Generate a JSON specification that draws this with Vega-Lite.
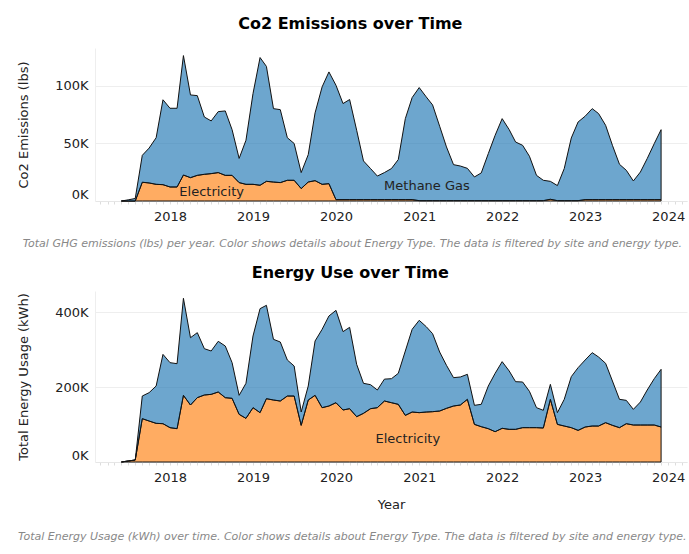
{
  "$schema": "https://vega.github.io/schema/vega-lite/v6.json",
  "padding": {"left": 16, "top": 16, "right": 2, "bottom": 5},
  "spacing": 16,
  "config": {
    "font": "DejaVu Sans",
    "view": {"stroke": null},
    "axis": {"labelFontSize": 13, "labelColor": "#222", "titleFontSize": 13, "titleFontWeight": "normal", "titleColor": "#222"},
    "title": {"fontSize": 16, "fontWeight": "bold", "color": "#000"}
  },
  "datasets": {
    "co2": [
      {"date": "2017-06-01", "Electricity": 0, "Methane Gas": 0},
      {"date": "2017-07-01", "Electricity": 0, "Methane Gas": 1000},
      {"date": "2017-08-01", "Electricity": 0, "Methane Gas": 2200},
      {"date": "2017-09-01", "Electricity": 16300, "Methane Gas": 23400},
      {"date": "2017-10-01", "Electricity": 15700, "Methane Gas": 30300},
      {"date": "2017-11-01", "Electricity": 14500, "Methane Gas": 40500},
      {"date": "2017-12-01", "Electricity": 14200, "Methane Gas": 73800},
      {"date": "2018-01-01", "Electricity": 12200, "Methane Gas": 68400},
      {"date": "2018-02-01", "Electricity": 12200, "Methane Gas": 68400},
      {"date": "2018-03-01", "Electricity": 22600, "Methane Gas": 103800},
      {"date": "2018-04-01", "Electricity": 20300, "Methane Gas": 71900},
      {"date": "2018-05-01", "Electricity": 22300, "Methane Gas": 69300},
      {"date": "2018-06-01", "Electricity": 23200, "Methane Gas": 49800},
      {"date": "2018-07-01", "Electricity": 23800, "Methane Gas": 45800},
      {"date": "2018-08-01", "Electricity": 24700, "Methane Gas": 53000},
      {"date": "2018-09-01", "Electricity": 22300, "Methane Gas": 56000},
      {"date": "2018-10-01", "Electricity": 22300, "Methane Gas": 39700},
      {"date": "2018-11-01", "Electricity": 16000, "Methane Gas": 21000},
      {"date": "2018-12-01", "Electricity": 14500, "Methane Gas": 38300},
      {"date": "2019-01-01", "Electricity": 14500, "Methane Gas": 78900},
      {"date": "2019-02-01", "Electricity": 13700, "Methane Gas": 111000},
      {"date": "2019-03-01", "Electricity": 17100, "Methane Gas": 99900},
      {"date": "2019-04-01", "Electricity": 16500, "Methane Gas": 63800},
      {"date": "2019-05-01", "Electricity": 16000, "Methane Gas": 63400},
      {"date": "2019-06-01", "Electricity": 18000, "Methane Gas": 37000},
      {"date": "2019-07-01", "Electricity": 18000, "Methane Gas": 32000},
      {"date": "2019-08-01", "Electricity": 10800, "Methane Gas": 13900},
      {"date": "2019-09-01", "Electricity": 16500, "Methane Gas": 23800},
      {"date": "2019-10-01", "Electricity": 17700, "Methane Gas": 58900},
      {"date": "2019-11-01", "Electricity": 14500, "Methane Gas": 84700},
      {"date": "2019-12-01", "Electricity": 15100, "Methane Gas": 97100},
      {"date": "2020-01-01", "Electricity": 1200, "Methane Gas": 99400},
      {"date": "2020-02-01", "Electricity": 1200, "Methane Gas": 83500},
      {"date": "2020-03-01", "Electricity": 1200, "Methane Gas": 87000},
      {"date": "2020-04-01", "Electricity": 1200, "Methane Gas": 60300},
      {"date": "2020-05-01", "Electricity": 1200, "Methane Gas": 33600},
      {"date": "2020-06-01", "Electricity": 1200, "Methane Gas": 27000},
      {"date": "2020-07-01", "Electricity": 1200, "Methane Gas": 20500},
      {"date": "2020-08-01", "Electricity": 1200, "Methane Gas": 23500},
      {"date": "2020-09-01", "Electricity": 1200, "Methane Gas": 27000},
      {"date": "2020-10-01", "Electricity": 1200, "Methane Gas": 34800},
      {"date": "2020-11-01", "Electricity": 1200, "Methane Gas": 70400},
      {"date": "2020-12-01", "Electricity": 1200, "Methane Gas": 88700},
      {"date": "2021-01-01", "Electricity": 300, "Methane Gas": 98300},
      {"date": "2021-02-01", "Electricity": 300, "Methane Gas": 90200},
      {"date": "2021-03-01", "Electricity": 300, "Methane Gas": 83200},
      {"date": "2021-04-01", "Electricity": 300, "Methane Gas": 64700},
      {"date": "2021-05-01", "Electricity": 300, "Methane Gas": 46700},
      {"date": "2021-06-01", "Electricity": 300, "Methane Gas": 31300},
      {"date": "2021-07-01", "Electricity": 300, "Methane Gas": 30100},
      {"date": "2021-08-01", "Electricity": 300, "Methane Gas": 28100},
      {"date": "2021-09-01", "Electricity": 300, "Methane Gas": 20600},
      {"date": "2021-10-01", "Electricity": 300, "Methane Gas": 24100},
      {"date": "2021-11-01", "Electricity": 300, "Methane Gas": 40900},
      {"date": "2021-12-01", "Electricity": 300, "Methane Gas": 56800},
      {"date": "2022-01-01", "Electricity": 300, "Methane Gas": 71300},
      {"date": "2022-02-01", "Electricity": 300, "Methane Gas": 61700},
      {"date": "2022-03-01", "Electricity": 300, "Methane Gas": 51000},
      {"date": "2022-04-01", "Electricity": 300, "Methane Gas": 48100},
      {"date": "2022-05-01", "Electricity": 300, "Methane Gas": 38600},
      {"date": "2022-06-01", "Electricity": 300, "Methane Gas": 22000},
      {"date": "2022-07-01", "Electricity": 300, "Methane Gas": 17700},
      {"date": "2022-08-01", "Electricity": 1500, "Methane Gas": 15600},
      {"date": "2022-09-01", "Electricity": 300, "Methane Gas": 13100},
      {"date": "2022-10-01", "Electricity": 300, "Methane Gas": 27900},
      {"date": "2022-11-01", "Electricity": 300, "Methane Gas": 54500},
      {"date": "2022-12-01", "Electricity": 300, "Methane Gas": 68400},
      {"date": "2023-01-01", "Electricity": 1200, "Methane Gas": 72500},
      {"date": "2023-02-01", "Electricity": 1200, "Methane Gas": 79100},
      {"date": "2023-03-01", "Electricity": 1200, "Methane Gas": 74800},
      {"date": "2023-04-01", "Electricity": 1200, "Methane Gas": 64600},
      {"date": "2023-05-01", "Electricity": 1200, "Methane Gas": 47200},
      {"date": "2023-06-01", "Electricity": 1200, "Methane Gas": 30700},
      {"date": "2023-07-01", "Electricity": 1200, "Methane Gas": 25500},
      {"date": "2023-08-01", "Electricity": 1200, "Methane Gas": 16200},
      {"date": "2023-09-01", "Electricity": 1200, "Methane Gas": 24000},
      {"date": "2023-10-01", "Electricity": 1200, "Methane Gas": 35700},
      {"date": "2023-11-01", "Electricity": 1200, "Methane Gas": 48700},
      {"date": "2023-12-01", "Electricity": 1200, "Methane Gas": 60800}
    ],
    "kwh": [
      {"date": "2017-06-01", "Electricity": 0, "Methane Gas": 0},
      {"date": "2017-07-01", "Electricity": 2700, "Methane Gas": 0},
      {"date": "2017-08-01", "Electricity": 5300, "Methane Gas": 0},
      {"date": "2017-09-01", "Electricity": 115600, "Methane Gas": 60400},
      {"date": "2017-10-01", "Electricity": 109300, "Methane Gas": 75600},
      {"date": "2017-11-01", "Electricity": 103100, "Methane Gas": 99600},
      {"date": "2017-12-01", "Electricity": 102200, "Methane Gas": 184800},
      {"date": "2018-01-01", "Electricity": 91600, "Methane Gas": 173300},
      {"date": "2018-02-01", "Electricity": 88900, "Methane Gas": 173300},
      {"date": "2018-03-01", "Electricity": 177800, "Methane Gas": 258700},
      {"date": "2018-04-01", "Electricity": 152000, "Methane Gas": 179500},
      {"date": "2018-05-01", "Electricity": 171600, "Methane Gas": 173300},
      {"date": "2018-06-01", "Electricity": 178700, "Methane Gas": 123500},
      {"date": "2018-07-01", "Electricity": 180400, "Methane Gas": 115600},
      {"date": "2018-08-01", "Electricity": 186700, "Methane Gas": 135100},
      {"date": "2018-09-01", "Electricity": 171600, "Methane Gas": 137700},
      {"date": "2018-10-01", "Electricity": 169800, "Methane Gas": 95100},
      {"date": "2018-11-01", "Electricity": 127100, "Methane Gas": 50700},
      {"date": "2018-12-01", "Electricity": 116400, "Methane Gas": 93400},
      {"date": "2019-01-01", "Electricity": 144900, "Methane Gas": 191100},
      {"date": "2019-02-01", "Electricity": 131600, "Methane Gas": 277300},
      {"date": "2019-03-01", "Electricity": 168900, "Methane Gas": 248900},
      {"date": "2019-04-01", "Electricity": 165300, "Methane Gas": 161800},
      {"date": "2019-05-01", "Electricity": 162700, "Methane Gas": 157300},
      {"date": "2019-06-01", "Electricity": 176000, "Methane Gas": 96000},
      {"date": "2019-07-01", "Electricity": 176000, "Methane Gas": 80000},
      {"date": "2019-08-01", "Electricity": 97800, "Methane Gas": 35500},
      {"date": "2019-09-01", "Electricity": 165300, "Methane Gas": 37400},
      {"date": "2019-10-01", "Electricity": 177800, "Methane Gas": 144900},
      {"date": "2019-11-01", "Electricity": 144900, "Methane Gas": 208900},
      {"date": "2019-12-01", "Electricity": 149300, "Methane Gas": 240000},
      {"date": "2020-01-01", "Electricity": 158200, "Methane Gas": 246200},
      {"date": "2020-02-01", "Electricity": 138700, "Methane Gas": 208900},
      {"date": "2020-03-01", "Electricity": 142200, "Methane Gas": 216900},
      {"date": "2020-04-01", "Electricity": 120900, "Methane Gas": 139500},
      {"date": "2020-05-01", "Electricity": 129800, "Methane Gas": 80000},
      {"date": "2020-06-01", "Electricity": 142200, "Methane Gas": 64000},
      {"date": "2020-07-01", "Electricity": 144900, "Methane Gas": 47100},
      {"date": "2020-08-01", "Electricity": 162700, "Methane Gas": 58300},
      {"date": "2020-09-01", "Electricity": 158200, "Methane Gas": 64000},
      {"date": "2020-10-01", "Electricity": 153800, "Methane Gas": 82600},
      {"date": "2020-11-01", "Electricity": 124400, "Methane Gas": 171600},
      {"date": "2020-12-01", "Electricity": 133300, "Methane Gas": 220500},
      {"date": "2021-01-01", "Electricity": 131600, "Methane Gas": 246200},
      {"date": "2021-02-01", "Electricity": 133300, "Methane Gas": 227600},
      {"date": "2021-03-01", "Electricity": 134200, "Methane Gas": 208000},
      {"date": "2021-04-01", "Electricity": 136000, "Methane Gas": 157300},
      {"date": "2021-05-01", "Electricity": 143100, "Methane Gas": 114700},
      {"date": "2021-06-01", "Electricity": 149300, "Methane Gas": 75600},
      {"date": "2021-07-01", "Electricity": 152000, "Methane Gas": 74700},
      {"date": "2021-08-01", "Electricity": 167100, "Methane Gas": 66700},
      {"date": "2021-09-01", "Electricity": 100400, "Methane Gas": 50700},
      {"date": "2021-10-01", "Electricity": 94200, "Methane Gas": 59600},
      {"date": "2021-11-01", "Electricity": 88900, "Methane Gas": 113800},
      {"date": "2021-12-01", "Electricity": 80900, "Methane Gas": 155500},
      {"date": "2022-01-01", "Electricity": 89800, "Methane Gas": 177800},
      {"date": "2022-02-01", "Electricity": 87100, "Methane Gas": 155600},
      {"date": "2022-03-01", "Electricity": 87100, "Methane Gas": 127100},
      {"date": "2022-04-01", "Electricity": 91600, "Methane Gas": 121700},
      {"date": "2022-05-01", "Electricity": 91600, "Methane Gas": 96800},
      {"date": "2022-06-01", "Electricity": 91600, "Methane Gas": 53300},
      {"date": "2022-07-01", "Electricity": 90700, "Methane Gas": 47100},
      {"date": "2022-08-01", "Electricity": 167100, "Methane Gas": 40000},
      {"date": "2022-09-01", "Electricity": 100400, "Methane Gas": 31200},
      {"date": "2022-10-01", "Electricity": 96000, "Methane Gas": 71100},
      {"date": "2022-11-01", "Electricity": 91600, "Methane Gas": 136000},
      {"date": "2022-12-01", "Electricity": 84400, "Methane Gas": 167200},
      {"date": "2023-01-01", "Electricity": 93300, "Methane Gas": 178700},
      {"date": "2023-02-01", "Electricity": 96000, "Methane Gas": 195600},
      {"date": "2023-03-01", "Electricity": 96000, "Methane Gas": 184000},
      {"date": "2023-04-01", "Electricity": 104900, "Methane Gas": 158200},
      {"date": "2023-05-01", "Electricity": 97800, "Methane Gas": 118200},
      {"date": "2023-06-01", "Electricity": 91600, "Methane Gas": 75500},
      {"date": "2023-07-01", "Electricity": 102200, "Methane Gas": 62200},
      {"date": "2023-08-01", "Electricity": 98700, "Methane Gas": 41700},
      {"date": "2023-09-01", "Electricity": 98700, "Methane Gas": 61300},
      {"date": "2023-10-01", "Electricity": 98700, "Methane Gas": 93300},
      {"date": "2023-11-01", "Electricity": 98700, "Methane Gas": 123500},
      {"date": "2023-12-01", "Electricity": 93300, "Methane Gas": 153800}
    ],
    "labels": [
      {"panel": "co2", "date": "2018-07-03", "value": 7800, "label": "Electricity"},
      {"panel": "co2", "date": "2021-02-04", "value": 13000, "label": "Methane Gas"},
      {"panel": "kwh", "date": "2020-11-12", "value": 60500, "label": "Electricity"}
    ]
  },
  "vconcat": [
    {
      "title": {"text": "Total GHG emissions (lbs) per year.  Color shows details about Energy Type. The data is filtered by site and energy type.", "orient": "bottom", "anchor": "middle", "frame": "bounds", "fontSize": 11, "fontStyle": "italic", "fontWeight": "normal", "color": "#888", "offset": 15},
      "vconcat": [
        {
          "title": {"text": "Co2 Emissions over Time", "offset": 16, "anchor": "middle", "frame": "bounds", "dx": -2},
          "width": 592,
          "height": 153,
          "layer": [
            {
              "data": {"name": "co2"},
              "transform": [{"fold": ["Electricity", "Methane Gas"], "as": ["type", "value"]}],
              "mark": {"type": "area", "fillOpacity": 0.65, "stroke": "#111", "strokeWidth": 1},
              "encoding": {
                "x": {"field": "date", "type": "temporal", "scale": {"type": "utc", "domain": [{"year": 2017, "month": 2, "date": 5, "utc": true}, {"year": 2024, "month": 3, "date": 24, "utc": true}]},
                  "axis": {"title": null, "grid": false, "tickCount": {"interval": "month", "step": 1}, "labelExpr": "utcFormat(datum.value, '%m') == '01' ? utcFormat(datum.value, '%Y') : ''", "labelOverlap": false, "labelBound": false, "labelFlush": false, "tickSize": 3, "tickColor": "#ddd", "domainColor": "#e6e6e6", "labelPadding": 6}},
                "y": {"field": "value", "type": "quantitative", "stack": "zero", "scale": {"domain": [0, 133000], "nice": false},
                  "axis": {"title": "Co2 Emissions (lbs)", "values": [0, 50000, 100000], "labelExpr": "(datum.value / 1000) + 'K'", "ticks": false, "gridColor": "#eee", "domainColor": "#eee", "labelPadding": 7, "titlePadding": 24, "labelOffset": {"condition": {"test": "datum.value === 0", "value": -7}, "value": 0}}},
                "color": {"field": "type", "type": "nominal", "scale": {"domain": ["Electricity", "Methane Gas"], "range": ["#ff7f0e", "#1f77b4"]}, "legend": null},
                "order": {"field": "type", "sort": "ascending"}
              }
            },
            {
              "data": {"name": "labels"},
              "transform": [{"filter": "datum.panel === 'co2'"}],
              "mark": {"type": "text", "fontSize": 13, "color": "#222", "align": "center", "baseline": "middle"},
              "encoding": {
                "x": {"field": "date", "type": "temporal"},
                "y": {"field": "value", "type": "quantitative"},
                "text": {"field": "label"}
              }
            }
          ]
        }
      ]
    },
    {
      "title": {"text": "Total Energy Usage (kWh) over time.  Color shows details about Energy Type. The data is filtered by site and energy type.", "orient": "bottom", "anchor": "middle", "frame": "bounds", "fontSize": 11, "fontStyle": "italic", "fontWeight": "normal", "color": "#888", "offset": 20},
      "vconcat": [
        {
          "title": {"text": "Energy Use over Time", "offset": 10, "anchor": "middle", "frame": "bounds", "dx": -2},
          "width": 592,
          "height": 171,
          "layer": [
            {
              "data": {"name": "kwh"},
              "transform": [{"fold": ["Electricity", "Methane Gas"], "as": ["type", "value"]}],
              "mark": {"type": "area", "fillOpacity": 0.65, "stroke": "#111", "strokeWidth": 1},
              "encoding": {
                "x": {"field": "date", "type": "temporal", "scale": {"type": "utc", "domain": [{"year": 2017, "month": 2, "date": 5, "utc": true}, {"year": 2024, "month": 3, "date": 24, "utc": true}]},
                  "axis": {"title": "Year", "titlePadding": 14, "grid": false, "tickCount": {"interval": "month", "step": 1}, "labelExpr": "utcFormat(datum.value, '%m') == '01' ? utcFormat(datum.value, '%Y') : ''", "labelOverlap": false, "labelBound": false, "labelFlush": false, "tickSize": 3, "tickColor": "#ddd", "domainColor": "#e6e6e6", "labelPadding": 6}},
                "y": {"field": "value", "type": "quantitative", "stack": "zero", "scale": {"domain": [0, 456000], "nice": false},
                  "axis": {"title": "Total Energy Usage (kWh)", "values": [0, 200000, 400000], "labelExpr": "(datum.value / 1000) + 'K'", "ticks": false, "gridColor": "#eee", "domainColor": "#eee", "labelPadding": 7, "titlePadding": 24, "labelOffset": {"condition": {"test": "datum.value === 0", "value": -7}, "value": 0}}},
                "color": {"field": "type", "type": "nominal", "scale": {"domain": ["Electricity", "Methane Gas"], "range": ["#ff7f0e", "#1f77b4"]}, "legend": null},
                "order": {"field": "type", "sort": "ascending"}
              }
            },
            {
              "data": {"name": "labels"},
              "transform": [{"filter": "datum.panel === 'kwh'"}],
              "mark": {"type": "text", "fontSize": 13, "color": "#222", "align": "center", "baseline": "middle"},
              "encoding": {
                "x": {"field": "date", "type": "temporal"},
                "y": {"field": "value", "type": "quantitative"},
                "text": {"field": "label"}
              }
            }
          ]
        }
      ]
    }
  ]
}
